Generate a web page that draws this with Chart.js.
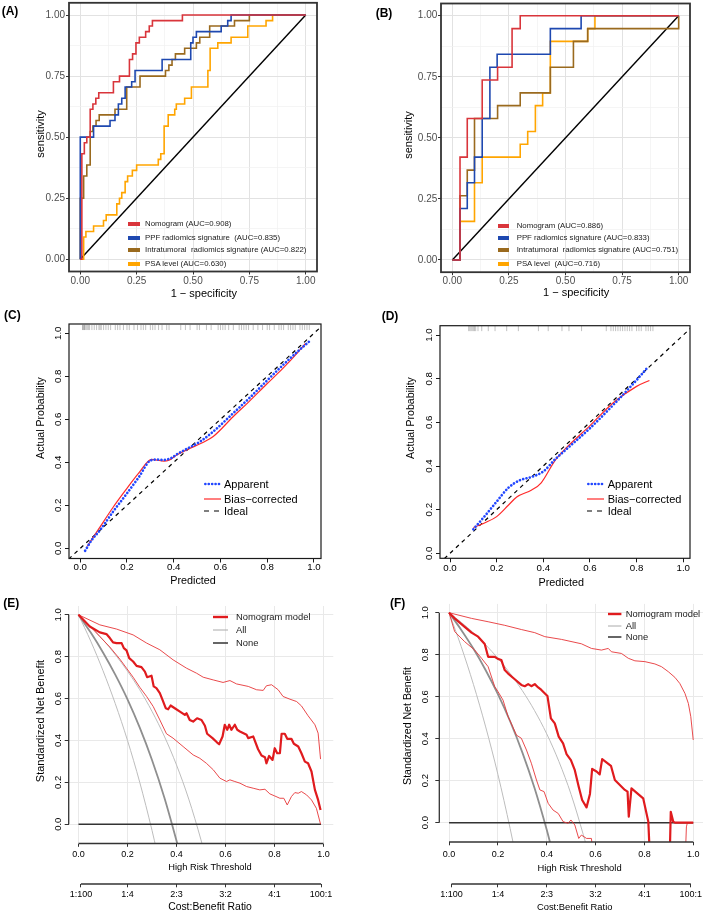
<!DOCTYPE html>
<html>
<head>
<meta charset="utf-8">
<title>ROC, calibration and decision curves</title>
<script src="https://cdn.jsdelivr.net/npm/chart.js@4.4.1/dist/chart.umd.min.js"></script>
<style>
  html, body { margin:0; padding:0; background:#ffffff; }
  #wrap { position:relative; width:709px; height:913px; overflow:hidden; font-family:"Liberation Sans", Arial, Helvetica, sans-serif; color:#000; }
  #wrap canvas { position:absolute; }
  .tx { position:absolute; white-space:pre; line-height:1; transform:translate(-50%,-50%); }
  .tv { position:absolute; white-space:pre; line-height:1; transform:translate(-50%,-50%) rotate(-90deg); }
  .tl { position:absolute; white-space:pre; line-height:1; transform:translateY(-50%); }
  .key { position:absolute; }
</style>
</head>
<body>
<div id="wrap"></div>
<script>
// ======================= DATA =======================
// ---- (A) ROC, training cohort ----
const A_nomo_fpr = [0,0.007,0.018,0.029,0.044,0.056,0.069,0.082,0.147,0.174,0.218,0.232,0.247,0.262,0.29,0.306,0.32,0.453,1];
const A_nomo_tpr = [0,0.432,0.477,0.5,0.614,0.636,0.659,0.682,0.727,0.75,0.818,0.841,0.886,0.909,0.932,0.955,0.977,1,1];
const A_ppf_fpr  = [0,0,0.059,0.132,0.154,0.169,0.184,0.199,0.228,0.243,0.363,0.49,0.5,0.515,0.625,0.654,0.669,1];
const A_ppf_tpr  = [0,0.5,0.545,0.568,0.591,0.636,0.659,0.705,0.727,0.773,0.818,0.886,0.909,0.932,0.955,0.977,1,1];
const A_intra_fpr = [0,0,0.015,0.029,0.044,0.056,0.07,0.084,0.154,0.206,0.265,0.378,0.393,0.407,0.422,0.463,0.515,0.53,0.574,0.684,0.75,1];
const A_intra_tpr = [0,0.25,0.341,0.386,0.523,0.545,0.568,0.591,0.614,0.705,0.75,0.773,0.795,0.818,0.841,0.864,0.886,0.909,0.955,0.977,1,1];
const A_psa_fpr = [0,0.015,0.025,0.059,0.103,0.115,0.162,0.174,0.184,0.199,0.21,0.231,0.25,0.346,0.357,0.372,0.39,0.419,0.426,0.463,0.493,0.566,0.576,0.61,0.669,0.743,0.824,0.853,1];
const A_psa_tpr = [0,0.091,0.114,0.136,0.159,0.182,0.227,0.25,0.273,0.318,0.341,0.364,0.386,0.409,0.432,0.545,0.591,0.614,0.636,0.659,0.705,0.773,0.864,0.886,0.909,0.955,0.977,1,1];
const A_labels = ['Nomogram (AUC=0.908)', 'PPF radiomics signature  (AUC=0.835)', 'Intratumoral  radiomics signature (AUC=0.822)', 'PSA level (AUC=0.630)'];

// ---- (B) ROC, validation cohort ----
const B_nomo_fpr = [0,0.034,0.066,0.132,0.2,0.264,0.3,1];
const B_nomo_tpr = [0,0.421,0.579,0.737,0.789,0.947,1,1];
const B_ppf_fpr  = [0,0.034,0.066,0.098,0.132,0.166,0.198,0.433,0.569,1];
const B_ppf_tpr  = [0,0.211,0.316,0.421,0.579,0.789,0.842,0.947,1,1];
const B_intra_fpr = [0,0.034,0.066,0.098,0.2,0.3,0.433,0.535,0.598,1];
const B_intra_tpr = [0,0.263,0.368,0.579,0.632,0.684,0.789,0.895,0.947,1];
const B_psa_fpr = [0,0.034,0.098,0.132,0.3,0.333,0.367,0.399,0.433,0.598,0.63,1];
const B_psa_tpr = [0,0.158,0.316,0.421,0.474,0.526,0.632,0.684,0.895,0.947,1,1];
const B_labels = ['Nomogram (AUC=0.886)', 'PPF radiomics signature (AUC=0.833)', 'Intratumoral  radiomics signature (AUC=0.751)', 'PSA level  (AUC=0.716)'];

const ROC_DIAG = [0, 1];
const ROC_TICKS = [0, 0.25, 0.5, 0.75, 1];
const ROC_TICK_LABELS = ['0.00', '0.25', '0.50', '0.75', '1.00'];
const ROC_MINOR = [0.125, 0.375, 0.625, 0.875];

// ---- (C) calibration, training ----
const C_app_x = [0.021,0.05,0.085,0.14,0.2,0.25,0.3,0.33,0.356,0.39,0.413,0.46,0.512,0.569,0.654,0.72,0.797,0.87,0.93,0.979];
const C_app_y = [-0.011,0.04,0.085,0.17,0.256,0.33,0.408,0.413,0.411,0.42,0.437,0.465,0.496,0.543,0.628,0.695,0.778,0.855,0.915,0.961];
const C_bias_x = [0.03,0.085,0.14,0.2,0.25,0.306,0.33,0.356,0.38,0.413,0.46,0.52,0.569,0.654,0.72,0.797,0.87,0.93,0.964];
const C_bias_y = [0.01,0.1,0.19,0.279,0.35,0.414,0.41,0.406,0.41,0.434,0.46,0.49,0.52,0.612,0.68,0.763,0.84,0.91,0.953];
const C_rug = [0.01,0.012,0.015,0.018,0.02,0.025,0.03,0.035,0.04,0.05,0.06,0.07,0.08,0.085,0.09,0.1,0.11,0.12,0.13,0.15,0.16,0.17,0.185,0.2,0.21,0.23,0.245,0.26,0.27,0.28,0.3,0.31,0.32,0.335,0.35,0.37,0.38,0.43,0.45,0.47,0.5,0.51,0.54,0.56,0.59,0.6,0.61,0.62,0.635,0.655,0.68,0.69,0.7,0.71,0.72,0.74,0.76,0.78,0.8,0.81,0.83,0.85,0.86,0.87,0.89,0.9,0.91,0.92,0.94,0.95,0.96,0.97,0.98];

// ---- (D) calibration, validation ----
const D_app_x = [0.1,0.15,0.2,0.25,0.3,0.35,0.4,0.45,0.5,0.6,0.7,0.8,0.85];
const D_app_y = [0.11,0.172,0.237,0.3,0.335,0.35,0.375,0.43,0.478,0.573,0.68,0.794,0.855];
const D_bias_x = [0.1,0.15,0.2,0.25,0.286,0.35,0.39,0.45,0.5,0.6,0.7,0.8,0.855];
const D_bias_y = [0.118,0.14,0.168,0.22,0.258,0.29,0.322,0.425,0.485,0.585,0.69,0.765,0.792];
const D_rug = [0.08,0.085,0.09,0.095,0.1,0.105,0.11,0.12,0.136,0.164,0.193,0.243,0.293,0.379,0.421,0.48,0.51,0.564,0.67,0.69,0.7,0.71,0.72,0.73,0.74,0.75,0.76,0.77,0.78,0.8,0.81,0.82,0.84,0.85,0.86,0.87];

const CAL_IDEAL = [-0.1, 1.1];
const CAL_TICKS = [0, 0.2, 0.4, 0.6, 0.8, 1.0];
const CAL_TICK_LABELS = ['0.0', '0.2', '0.4', '0.6', '0.8', '1.0'];
const CAL_LEGEND = ['Apparent', 'Bias\u2212corrected', 'Ideal'];

// ---- (E) decision curve, training ----
const E_nomo_x = [0,0.046,0.087,0.114,0.128,0.141,0.155,0.176,0.185,0.196,0.207,0.223,0.237,0.257,0.271,0.28,0.298,0.307,0.318,0.332,0.343,0.356,0.366,0.376,0.393,0.414,0.434,0.441,0.454,0.468,0.484,0.502,0.516,0.525,0.547,0.566,0.574,0.588,0.597,0.607,0.615,0.624,0.638,0.648,0.659,0.686,0.693,0.713,0.733,0.747,0.761,0.767,0.778,0.792,0.801,0.811,0.822,0.829,0.842,0.852,0.869,0.879,0.897,0.91,0.924,0.937,0.951,0.965,0.978,0.988];
const E_nomo_y = [1,0.944,0.916,0.908,0.889,0.868,0.865,0.865,0.841,0.83,0.793,0.777,0.756,0.75,0.729,0.702,0.709,0.658,0.65,0.626,0.594,0.554,0.549,0.567,0.554,0.538,0.522,0.53,0.498,0.49,0.506,0.498,0.47,0.432,0.411,0.39,0.382,0.419,0.475,0.451,0.475,0.451,0.475,0.451,0.443,0.427,0.411,0.419,0.358,0.328,0.32,0.291,0.326,0.307,0.363,0.339,0.339,0.432,0.432,0.408,0.408,0.384,0.371,0.339,0.299,0.291,0.252,0.164,0.116,0.068];
const E_up_x = [0,0.087,0.155,0.223,0.278,0.332,0.386,0.441,0.482,0.509,0.55,0.59,0.618,0.645,0.693,0.727,0.754,0.767,0.788,0.815,0.835,0.863,0.89,0.91,0.937,0.965,0.978,0.988];
const E_up_y = [1,0.952,0.932,0.904,0.865,0.833,0.785,0.745,0.721,0.702,0.689,0.677,0.686,0.67,0.658,0.642,0.639,0.661,0.666,0.642,0.61,0.597,0.586,0.565,0.518,0.475,0.435,0.311];
const E_lo_x = [0,0.046,0.087,0.128,0.169,0.196,0.223,0.25,0.278,0.305,0.332,0.359,0.386,0.427,0.468,0.495,0.522,0.55,0.577,0.604,0.618,0.638,0.659,0.686,0.713,0.74,0.761,0.781,0.801,0.822,0.838,0.852,0.869,0.883,0.897,0.91,0.931,0.951,0.971,0.988];
const E_lo_y = [1,0.947,0.896,0.846,0.788,0.745,0.702,0.654,0.61,0.562,0.498,0.432,0.411,0.371,0.331,0.315,0.291,0.26,0.22,0.204,0.212,0.204,0.196,0.18,0.172,0.164,0.167,0.145,0.135,0.124,0.124,0.092,0.132,0.151,0.148,0.156,0.14,0.116,0.076,0];
const E_all_x = [0,0.05,0.1,0.15,0.2,0.25,0.3,0.35,0.4,0.41];
const E_all_y = [1,0.915,0.82,0.714,0.596,0.461,0.307,0.129,-0.079,-0.124];
const E_allLo_x = [0,0.05,0.1,0.15,0.2,0.25,0.3,0.32];
const E_allLo_y = [1,0.874,0.733,0.576,0.4,0.2,-0.029,-0.13];
const E_allHi_x = [0,0.05,0.1,0.15,0.2,0.25,0.3,0.35,0.4,0.45,0.5,0.51];
const E_allHi_y = [1,0.943,0.881,0.81,0.731,0.642,0.539,0.421,0.283,0.12,-0.075,-0.119];
const E_none_x = [0, 0.99];
const E_none_y = [0, 0];

// ---- (F) decision curve, validation ----
const F_nomo_x = [0,0.023,0.064,0.092,0.119,0.146,0.16,0.187,0.2,0.214,0.228,0.242,0.269,0.296,0.31,0.324,0.337,0.351,0.365,0.378,0.403,0.417,0.433,0.449,0.467,0.481,0.499,0.515,0.531,0.545,0.563,0.577,0.586,0.604,0.617,0.627,0.663,0.679,0.72,0.731,0.736,0.747,0.795,0.816,0.822,0.904,0.908,0.918,0.925,1.0];
const F_nomo_y = [1,0.973,0.933,0.905,0.886,0.851,0.79,0.79,0.78,0.775,0.727,0.71,0.683,0.656,0.65,0.66,0.65,0.66,0.644,0.632,0.603,0.497,0.473,0.41,0.378,0.327,0.298,0.25,0.171,0.108,0.073,0.137,0.256,0.244,0.23,0.303,0.271,0.203,0.156,0.148,0.029,0.163,0.116,0.005,-0.15,-0.15,0.052,0.005,0,0];
const F_up_x = [0,0.092,0.16,0.228,0.296,0.351,0.392,0.46,0.542,0.583,0.624,0.652,0.665,0.706,0.734,0.761,0.802,0.843,0.87,0.898,0.925,0.945,0.966,0.98,0.99,1.0];
const F_up_y = [1,0.973,0.957,0.94,0.92,0.905,0.886,0.873,0.852,0.83,0.822,0.83,0.814,0.806,0.783,0.771,0.767,0.756,0.743,0.719,0.692,0.663,0.616,0.568,0.505,0.394];
const F_lo_x = [0,0.023,0.064,0.105,0.133,0.16,0.187,0.2,0.221,0.242,0.262,0.276,0.296,0.317,0.337,0.358,0.372,0.389,0.406,0.426,0.447,0.467,0.488,0.499,0.515,0.531,0.542,0.563,0.583,0.59,0.968,0.972,0.976,1.0];
const F_lo_y = [1,0.91,0.862,0.822,0.783,0.743,0.648,0.625,0.584,0.505,0.454,0.417,0.402,0.346,0.283,0.203,0.156,0.148,0.092,0.06,0.044,0.005,-0.003,0.013,-0.011,-0.075,-0.059,-0.075,-0.075,-0.15,-0.15,-0.02,0,0];
const F_all_x = [0,0.05,0.1,0.15,0.2,0.25,0.3,0.35,0.4,0.42];
const F_all_y = [1,0.918,0.828,0.726,0.612,0.483,0.335,0.165,-0.034,-0.123];
const F_allLo_x = [0,0.05,0.1,0.15,0.2,0.25,0.27];
const F_allLo_y = [1,0.838,0.658,0.456,0.23,-0.027,-0.139];
const F_allHi_x = [0,0.05,0.1,0.15,0.2,0.25,0.3,0.35,0.4,0.45,0.5,0.55,0.56];
const F_allHi_y = [1,0.954,0.904,0.847,0.783,0.711,0.629,0.534,0.423,0.291,0.134,-0.058,-0.1];
const F_none_x = [0, 1];
const F_none_y = [0, 0];

const DCA_XTICKS = [0, 0.2, 0.4, 0.6, 0.8, 1.0];
const DCA_XLABELS = ['0.0', '0.2', '0.4', '0.6', '0.8', '1.0'];
const DCA_YTICKS = [0, 0.2, 0.4, 0.6, 0.8, 1.0];
const DCA_YLABELS = ['0.0', '0.2', '0.4', '0.6', '0.8', '1.0'];
const CB_TICKS = [0.0099, 0.2, 0.4, 0.6, 0.8, 0.99];
const CB_LABELS = ['1:100', '1:4', '2:3', '3:2', '4:1', '100:1'];
const DCA_LEGEND = ['Nomogram model', 'All', 'None'];

// ======================= HELPERS =======================
const wrap = document.getElementById('wrap');
const FAMILY = '"Liberation Sans", Arial, Helvetica, sans-serif';
Chart.defaults.font.family = FAMILY;

const pts = (xs, ys) => xs.map((x, i) => ({ x: x, y: ys[i] }));
const near = (a, b) => Math.abs(a - b) < 1e-6;
const labelFor = (v, vals, labs) => { const i = vals.findIndex(t => near(t, v)); return i < 0 ? '' : labs[i]; };
const fixBox = (size, dim) => s => { s[dim] = size; s.paddingTop = 0; s.paddingBottom = 0; s.paddingLeft = 0; s.paddingRight = 0; };

function canvasAt(r) {
  const c = document.createElement('canvas');
  c.width = r[2]; c.height = r[3];
  c.style.left = r[0] + 'px'; c.style.top = r[1] + 'px';
  c.style.width = r[2] + 'px'; c.style.height = r[3] + 'px';
  wrap.appendChild(c);
  return c;
}
function addText(cls, x, y, str, size, color, weight) {
  const d = document.createElement('div');
  d.className = cls;
  d.style.left = x + 'px'; d.style.top = y + 'px';
  d.style.fontSize = size + 'px';
  if (color) d.style.color = color;
  if (weight) d.style.fontWeight = weight;
  d.textContent = str;
  wrap.appendChild(d);
}
function addKey(x, y, w, h, html) {
  const d = document.createElement('div');
  d.className = 'key';
  d.style.left = x + 'px'; d.style.top = (y - h / 2) + 'px';
  d.style.width = w + 'px'; d.style.height = h + 'px';
  d.innerHTML = html;
  wrap.appendChild(d);
}
function svgLine(w, h, color, lw, dash, cap) {
  return '<svg width="' + w + '" height="' + h + '" style="display:block"><line x1="' + (cap === 'round' ? lw / 2 : 0) + '" y1="' + h / 2 + '" x2="' + w + '" y2="' + h / 2 +
    '" stroke="' + color + '" stroke-width="' + lw + '"' + (dash ? ' stroke-dasharray="' + dash + '"' : '') +
    ' stroke-linecap="' + (cap || 'butt') + '"/></svg>';
}

// decoration plugin: R-style axis lines, panel boxes and rotated y tick labels
const deco = {
  id: 'deco',
  afterDraw(chart) {
    const o = chart.canvas._deco;
    if (!o) return;
    const ctx = chart.ctx, ca = chart.chartArea;
    ctx.save();
    (o.lines || []).forEach(l => {
      const s = chart.scales[l.scale];
      ctx.beginPath();
      ctx.strokeStyle = l.color; ctx.lineWidth = l.width;
      if (s.isHorizontal()) {
        ctx.moveTo(s.getPixelForValue(l.from), s.top);
        ctx.lineTo(s.getPixelForValue(l.to), s.top);
      } else {
        ctx.moveTo(s.right, s.getPixelForValue(l.from));
        ctx.lineTo(s.right, s.getPixelForValue(l.to));
      }
      ctx.stroke();
    });
    if (o.box) {
      ctx.strokeStyle = o.box.color; ctx.lineWidth = o.box.width;
      ctx.strokeRect(ca.left, ca.top, ca.right - ca.left, ca.bottom - ca.top);
    }
    if (o.yRot) {
      const s = chart.scales.y;
      ctx.fillStyle = o.yRot.color; ctx.font = o.yRot.font;
      ctx.textAlign = 'center'; ctx.textBaseline = 'middle';
      o.yRot.values.forEach((v, i) => {
        ctx.save();
        ctx.translate(o.yRot.x, s.getPixelForValue(v));
        ctx.rotate(-Math.PI / 2);
        ctx.fillText(o.yRot.labels[i], 0, 0);
        ctx.restore();
      });
    }
    ctx.restore();
  }
};
Chart.register(deco);

const baseOpts = (lay) => ({
  responsive: false, animation: false, events: [],
  layout: { padding: { left: 0, top: lay.pt, right: lay.pr, bottom: 0 } },
  plugins: { legend: { display: false }, tooltip: { enabled: false } }
});

// ======================= ROC PANELS =======================
const ROC_COLORS = ['#D9353B', '#1E48B0', '#9A6A1E', '#FFA500'];
function rocChart(rect, lay, series) {
  const c = canvasAt(rect);
  c._deco = { box: { color: '#333333', width: 1.8 } };
  const gridVals = ROC_TICKS.concat(ROC_MINOR).sort((a, b) => a - b);
  const isMajor = ctx => !!(ctx.tick && ROC_TICKS.some(t => near(t, ctx.tick.value)));
  const axis = (fit, pad) => ({
    type: 'linear', min: -0.05, max: 1.05,
    afterBuildTicks: s => { s.ticks = gridVals.map(v => ({ value: v })); },
    afterFit: fit,
    border: { display: false },
    grid: {
      color: ctx => isMajor(ctx) ? '#e2e2e2' : '#f1f1f1',
      lineWidth: ctx => isMajor(ctx) ? 1 : 0.7,
      tickColor: ctx => isMajor(ctx) ? '#333333' : 'rgba(0,0,0,0)',
      tickLength: 3, tickWidth: 1
    },
    ticks: { autoSkip: false, maxRotation: 0, minRotation: 0, padding: pad, color: '#4d4d4d',
      font: { size: 10, lineHeight: 1 }, callback: v => labelFor(v, ROC_TICKS, ROC_TICK_LABELS) }
  });
  const ds = series.map((s, i) => ({
    label: s.label, data: pts(s.x, s.y), borderColor: ROC_COLORS[i], borderWidth: 1.6,
    stepped: true, pointRadius: 0, fill: false
  }));
  ds.push({ label: 'reference', data: pts(ROC_DIAG, ROC_DIAG), borderColor: '#000000', borderWidth: 1.4, pointRadius: 0, fill: false });
  const opts = baseOpts(lay);
  opts.scales = { x: axis(fixBox(lay.xh, 'height'), lay.xpad), y: axis(fixBox(lay.yw, 'width'), lay.ypad) };
  return new Chart(c.getContext('2d'), { type: 'line', data: { datasets: ds }, options: opts });
}

rocChart([0, 0, 355, 300], { pt: 2.8, pr: 38, xh: 28.5, yw: 69, xpad: 2, ypad: 1 }, [
  { label: A_labels[0], x: A_nomo_fpr, y: A_nomo_tpr },
  { label: A_labels[1], x: A_ppf_fpr, y: A_ppf_tpr },
  { label: A_labels[2], x: A_intra_fpr, y: A_intra_tpr },
  { label: A_labels[3], x: A_psa_fpr, y: A_psa_tpr }
]);
rocChart([355, 0, 354, 300], { pt: 3.5, pr: 19, xh: 27.8, yw: 86, xpad: 1.4, ypad: 0.7 }, [
  { label: B_labels[0], x: B_nomo_fpr, y: B_nomo_tpr },
  { label: B_labels[1], x: B_ppf_fpr, y: B_ppf_tpr },
  { label: B_labels[2], x: B_intra_fpr, y: B_intra_tpr },
  { label: B_labels[3], x: B_psa_fpr, y: B_psa_tpr }
]);

// ======================= CALIBRATION PANELS =======================
const CAL_BLUE = '#2247FF', CAL_RED = '#FF2A2A';
function calChart(rect, lay, app, bias, rug) {
  const c = canvasAt(rect);
  c._deco = {
    box: { color: '#1a1a1a', width: 1.2 },
    yRot: { x: lay.ylabX, values: CAL_TICKS, labels: CAL_TICK_LABELS, color: '#000', font: '9.7px ' + FAMILY }
  };
  const opts = baseOpts(lay);
  opts.scales = {
    x: {
      type: 'linear', min: lay.xmin, max: lay.xmax,
      afterBuildTicks: s => { s.ticks = CAL_TICKS.map(v => ({ value: v })); },
      afterFit: fixBox(lay.xh, 'height'),
      border: { display: false },
      grid: { drawOnChartArea: false, tickLength: 4, tickColor: '#1a1a1a', tickWidth: 1 },
      ticks: { autoSkip: false, maxRotation: 0, minRotation: 0, padding: lay.xpad, color: '#000',
        font: { size: 9.7, lineHeight: 1 }, callback: v => labelFor(v, CAL_TICKS, CAL_TICK_LABELS) }
    },
    y: {
      type: 'linear', min: lay.ymin, max: lay.ymax,
      afterBuildTicks: s => { s.ticks = CAL_TICKS.map(v => ({ value: v })); },
      afterFit: fixBox(lay.yw, 'width'),
      border: { display: false },
      grid: { drawOnChartArea: false, tickLength: 4, tickColor: '#1a1a1a', tickWidth: 1 },
      ticks: { display: false }
    }
  };
  const ds = [
    { label: CAL_LEGEND[0], data: pts(app.x, app.y), borderColor: CAL_BLUE, borderWidth: 2.7,
      borderDash: [0.01, 3.4], borderCapStyle: 'round', cubicInterpolationMode: 'monotone', pointRadius: 0, fill: false },
    { label: CAL_LEGEND[1], data: pts(bias.x, bias.y), borderColor: CAL_RED, borderWidth: 1.2,
      cubicInterpolationMode: 'monotone', pointRadius: 0, fill: false },
    { label: CAL_LEGEND[2], data: pts(CAL_IDEAL, CAL_IDEAL), borderColor: '#000', borderWidth: 1.2,
      borderDash: [4, 4], pointRadius: 0, fill: false },
    { type: 'scatter', label: 'rug', data: rug.map(v => ({ x: v, y: lay.rugY })), pointStyle: 'line', pointRotation: 90,
      pointRadius: 2.6, pointBorderColor: 'rgba(120,120,120,0.45)', pointBorderWidth: 1, pointBackgroundColor: 'rgba(0,0,0,0)' }
  ];
  return new Chart(c.getContext('2d'), { type: 'line', data: { datasets: ds }, options: opts });
}
calChart([0, 300, 355, 290], { pt: 24, pr: 34, xh: 31.5, yw: 69, xpad: 0, xmin: -0.048, xmax: 1.03, ymin: -0.047, ymax: 1.043, ylabX: 58.3, rugY: 1.027 },
  { x: C_app_x, y: C_app_y }, { x: C_bias_x, y: C_bias_y }, C_rug);
calChart([355, 300, 354, 290], { pt: 25.7, pr: 19, xh: 31.7, yw: 85, xpad: 1.25, xmin: -0.043, xmax: 1.029, ymin: -0.023, ymax: 1.043, ylabX: 74, rugY: 1.03 },
  { x: D_app_x, y: D_app_y }, { x: D_bias_x, y: D_bias_y }, D_rug);

// ======================= DECISION CURVE PANELS =======================
const DCA_RED = '#E01B1E', DCA_RED_THIN = '#E63538', DCA_GRAY = '#8f8f8f', DCA_GRAY_THIN = '#bdbdbd', DCA_NONE = '#333333';
function dcaChart(rect, lay, d) {
  const c = canvasAt(rect);
  c._deco = {
    lines: [
      { scale: 'x', from: DCA_XTICKS[0], to: DCA_XTICKS[DCA_XTICKS.length - 1], color: '#333', width: 1.3 },
      { scale: 'x2', from: CB_TICKS[0], to: CB_TICKS[CB_TICKS.length - 1], color: '#333', width: 1.3 },
      { scale: 'y', from: DCA_YTICKS[0], to: DCA_YTICKS[DCA_YTICKS.length - 1], color: '#333', width: 1.3 }
    ],
    yRot: { x: lay.ylabX, values: DCA_YTICKS, labels: DCA_YLABELS, color: '#000', font: '9.5px ' + FAMILY }
  };
  const opts = baseOpts(lay);
  opts.scales = {
    x: {
      type: 'linear', position: 'bottom', weight: 0, min: -0.04, max: 1.04,
      afterBuildTicks: s => { s.ticks = DCA_XTICKS.map(v => ({ value: v })); },
      afterFit: fixBox(lay.xh, 'height'),
      border: { display: false },
      grid: { color: '#e9e9e9', lineWidth: 1, tickLength: 3.3, tickColor: '#333', tickWidth: 1 },
      ticks: { autoSkip: false, maxRotation: 0, minRotation: 0, padding: lay.xpad, color: '#000',
        font: { size: 9, lineHeight: 1 }, callback: v => labelFor(v, DCA_XTICKS, DCA_XLABELS) }
    },
    x2: {
      type: 'linear', axis: 'x', position: 'bottom', weight: 1, min: -0.04, max: 1.04,
      afterBuildTicks: s => { s.ticks = CB_TICKS.map(v => ({ value: v })); },
      afterFit: fixBox(lay.x2h, 'height'),
      border: { display: false },
      grid: { drawOnChartArea: false, tickLength: 3.3, tickColor: '#333', tickWidth: 1 },
      ticks: { autoSkip: false, maxRotation: 0, minRotation: 0, padding: 3.2, color: '#000',
        font: { size: 9, lineHeight: 1 }, callback: v => labelFor(v, CB_TICKS, CB_LABELS) }
    },
    y: {
      type: 'linear', min: -0.092, max: 1.042,
      afterBuildTicks: s => { s.ticks = DCA_YTICKS.map(v => ({ value: v })); },
      afterFit: fixBox(lay.yw, 'width'),
      border: { display: false },
      grid: { color: '#e9e9e9', lineWidth: 1, tickLength: 4, tickColor: '#333', tickWidth: 1 },
      ticks: { display: false }
    }
  };
  const line = (label, x, y, color, w, smooth) => ({
    label: label, data: pts(x, y), xAxisID: 'x', yAxisID: 'y', borderColor: color, borderWidth: w,
    pointRadius: 0, fill: false, borderJoinStyle: 'round', cubicInterpolationMode: smooth ? 'monotone' : 'default', tension: 0
  });
  const ds = [
    line(DCA_LEGEND[0], d.nomo_x, d.nomo_y, DCA_RED, 2.2),
    line('Nomogram upper', d.up_x, d.up_y, DCA_RED_THIN, 0.9),
    line('Nomogram lower', d.lo_x, d.lo_y, DCA_RED_THIN, 0.9),
    line(DCA_LEGEND[2], d.none_x, d.none_y, DCA_NONE, 1.5),
    line(DCA_LEGEND[1], d.all_x, d.all_y, DCA_GRAY, 1.8, true),
    line('All lower', d.allLo_x, d.allLo_y, DCA_GRAY_THIN, 1, true),
    line('All upper', d.allHi_x, d.allHi_y, DCA_GRAY_THIN, 1, true)
  ];
  return new Chart(c.getContext('2d'), { type: 'line', data: { datasets: ds }, options: opts });
}
dcaChart([0, 590, 355, 323], { pt: 16, pr: 21.7, xh: 40.5, x2h: 29, yw: 68.7, xpad: 3.7, ylabX: 58.3 }, {
  nomo_x: E_nomo_x, nomo_y: E_nomo_y, up_x: E_up_x, up_y: E_up_y, lo_x: E_lo_x, lo_y: E_lo_y,
  all_x: E_all_x, all_y: E_all_y, allLo_x: E_allLo_x, allLo_y: E_allLo_y, allHi_x: E_allHi_x, allHi_y: E_allHi_y,
  none_x: E_none_x, none_y: E_none_y });
dcaChart([355, 590, 354, 323], { pt: 13.9, pr: 6, xh: 42, x2h: 29, yw: 84.3, xpad: 5.2, ylabX: 70 }, {
  nomo_x: F_nomo_x, nomo_y: F_nomo_y, up_x: F_up_x, up_y: F_up_y, lo_x: F_lo_x, lo_y: F_lo_y,
  all_x: F_all_x, all_y: F_all_y, allLo_x: F_allLo_x, allLo_y: F_allLo_y, allHi_x: F_allHi_x, allHi_y: F_allHi_y,
  none_x: F_none_x, none_y: F_none_y });

// ======================= TEXT: panel letters, axis titles, legends =======================
[['(A)', 1.7, 11.3], ['(B)', 375.7, 13], ['(C)', 4, 315], ['(D)', 381.7, 316], ['(E)', 3.3, 603.3], ['(F)', 390, 603.3]]
  .forEach(p => addText('tl', p[1], p[2], p[0], 12, '#000', 'bold'));

addText('tv', 40, 134, 'sensitivity', 11);
addText('tx', 203.8, 292.7, '1 \u2212 specificity', 11);
addText('tv', 408.3, 135, 'sensitivity', 11);
addText('tx', 576.2, 291.7, '1 \u2212 specificity', 11);
addText('tv', 40, 418.3, 'Actual Probability', 10.6);
addText('tx', 193, 580, 'Predicted', 10.8);
addText('tv', 410, 418.3, 'Actual Probability', 10.6);
addText('tx', 561.3, 581.7, 'Predicted', 10.8);
addText('tv', 40, 721.3, 'Standardized Net Benefit', 11);
addText('tx', 210, 867.5, 'High Risk Threshold', 9.3);
addText('tx', 210, 907, 'Cost:Benefit Ratio', 10.4);
addText('tv', 406.7, 725.8, 'Standardized Net Benefit', 10.6);
addText('tx', 579.5, 867.5, 'High Risk Threshold', 9.4);
addText('tx', 574.7, 907, 'Cost:Benefit Ratio', 9.4);

// ROC legends
function rocLegend(labels, keyX, keyW, textX, rows) {
  labels.forEach((lab, i) => {
    addKey(keyX, rows[i], keyW, 4, '<div style="width:100%;height:100%;background:' + ROC_COLORS[i] + '"></div>');
    addText('tl', textX, rows[i], lab, 7.8, '#1a1a1a');
  });
}
rocLegend(A_labels, 128.3, 11.7, 145, [224.3, 237.7, 250, 264]);
rocLegend(B_labels, 498.3, 10.7, 516.7, [225.7, 238.3, 250, 264]);

// calibration legends
function calLegend(keyX, textX, rows) {
  addKey(keyX, rows[0], 17, 6, svgLine(17, 6, CAL_BLUE, 2.7, '0.01 3.4', 'round'));
  addKey(keyX, rows[1], 17, 6, svgLine(17, 6, CAL_RED, 1.2));
  addKey(keyX, rows[2], 17, 6, svgLine(17, 6, '#000', 1.2, '5 5'));
  CAL_LEGEND.forEach((lab, i) => addText('tl', textX, rows[i], lab, 11, '#000'));
}
calLegend(204, 224, [484.3, 498.7, 510.7]);
calLegend(587.3, 607.7, [484.3, 498.7, 510.7]);

// decision curve legends
function dcaLegend(keyX, keyW, textX, rows) {
  addKey(keyX, rows[0], keyW, 6, svgLine(keyW, 6, DCA_RED, 2.4));
  addKey(keyX, rows[1], keyW, 6, svgLine(keyW, 6, '#aaaaaa', 1));
  addKey(keyX, rows[2], keyW, 6, svgLine(keyW, 6, DCA_NONE, 1.5));
  DCA_LEGEND.forEach((lab, i) => addText('tl', textX, rows[i], lab, 9.4, '#1a1a1a'));
}
dcaLegend(213.3, 15, 236, [617.3, 630, 643.3]);
dcaLegend(608.3, 13.4, 625.7, [614.3, 625.7, 636.7]);
</script>
</body>
</html>
